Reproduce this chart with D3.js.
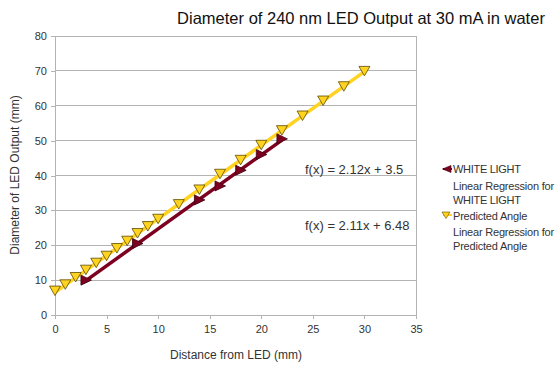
<!DOCTYPE html>
<html><head><meta charset="utf-8">
<script src="https://cdn.jsdelivr.net/npm/d3@7"></script>
<style>body{margin:0;background:#fff}svg{display:block;font-family:"Liberation Sans",Arial,sans-serif}</style>
</head><body><svg id="c" width="558" height="370"></svg>
<script>
const title = "Diameter of 240 nm LED Output at 30 mA in water";
const xLabel = "Distance from LED (mm)";
const yLabel = "Diameter of LED Output (mm)";
const xTicks = [0,5,10,15,20,25,30,35];
const yTicks = [0,10,20,30,40,50,60,70,80];
const whiteX = [3,8,14,16,18,20,22];
const whiteY = [10,20.5,33,37,41.5,46,50.5];
const predX = [0,1,2,3,4,5,6,7,8,9,10,12,14,16,18,20,22,24,26,28,30];
const predY = [7,8.8,10.9,13,15,17,19.2,21.3,23.5,25.5,27.6,31.8,36,40.5,44.5,48.8,53,57.2,61.5,65.6,70];
const regWhite = [2.12, 3.5];
const regPred = [2.11, 6.48];
const eqLabels = ["f(x) = 2.12x + 3.5", "f(x) = 2.11x + 6.48"];
const legendLabels = ["WHITE LIGHT", "Linear Regression for", "WHITE LIGHT", "Predicted Angle", "Linear Regression for", "Predicted Angle"];

const svg = d3.select("#c");
const x = d3.scaleLinear().domain([0,35]).range([55,416]);
const y = d3.scaleLinear().domain([0,80]).range([315,36]);
const grid = "#b3b3b3";
const dark = "#7e0021", yellow = "#ffd320";

// gridlines
svg.append("g").selectAll("line").data(yTicks.slice(1)).join("line")
  .attr("x1",x(0)).attr("x2",x(35)).attr("y1",d=>y(d)).attr("y2",d=>y(d))
  .attr("stroke",grid).attr("stroke-width",1).attr("shape-rendering","crispEdges");
svg.append("line").attr("x1",x(35)).attr("x2",x(35)).attr("y1",y(0)).attr("y2",y(80))
  .attr("stroke",grid).attr("shape-rendering","crispEdges");

// axes
const ax = svg.append("g").attr("transform",`translate(0,${y(0)})`)
  .call(d3.axisBottom(x).tickValues(xTicks).tickSize(4).tickPadding(6));
const ay = svg.append("g").attr("transform",`translate(${x(0)},0)`)
  .call(d3.axisLeft(y).tickValues(yTicks).tickSize(4).tickPadding(4));
[ax,ay].forEach(g=>{
  g.selectAll("path,line").attr("stroke",grid).attr("shape-rendering","crispEdges");
  g.selectAll("text").attr("fill","#333").attr("font-size","11px").attr("font-family","Liberation Sans, Arial, sans-serif");
});

// regression lines
function regLine(xs, r, color){
  const x0 = d3.min(xs), x1 = d3.max(xs);
  svg.append("line").attr("x1",x(x0)).attr("y1",y(r[0]*x0+r[1]))
    .attr("x2",x(x1)).attr("y2",y(r[0]*x1+r[1]))
    .attr("stroke",color).attr("stroke-width",3.5).attr("stroke-linecap","butt");
}
regLine(predX, regPred, yellow);
regLine(whiteX, regWhite, dark);

// markers
const downTri = "M-5.5,-4.5L5.5,-4.5L0,5Z";
const rightTri = "M-5,-5L5.5,0L-5,5Z";
svg.append("g").selectAll("path").data(predX.map((d,i)=>[d,predY[i]])).join("path")
  .attr("d",downTri).attr("transform",d=>`translate(${x(d[0])},${y(d[1])})`)
  .attr("fill",yellow).attr("stroke","#5c4a00").attr("stroke-width",0.8);
svg.append("g").selectAll("path").data(whiteX.map((d,i)=>[d,whiteY[i]])).join("path")
  .attr("d",rightTri).attr("transform",d=>`translate(${x(d[0])},${y(d[1])})`)
  .attr("fill",dark).attr("stroke","#3a0010").attr("stroke-width",0.8);

// equations
svg.append("text").attr("x",305).attr("y",174).text(eqLabels[0]).attr("font-size","13px").attr("fill","#333");
svg.append("text").attr("x",305).attr("y",230).text(eqLabels[1]).attr("font-size","13px").attr("fill","#333");

// title & labels
svg.append("text").attr("x",361).attr("y",24).attr("text-anchor","middle").attr("font-size","16.5px").attr("fill","#111").text(title);
svg.append("text").attr("x",236).attr("y",359).attr("text-anchor","middle").attr("font-size","12px").attr("fill","#333").text(xLabel);
svg.append("text").attr("transform","translate(19,175) rotate(-90)").attr("text-anchor","middle").attr("font-size","12px").attr("fill","#333").text(yLabel);

// legend
const legY = [173,190,204,220,236,250];
svg.append("g").selectAll("text").data(legendLabels).join("text")
  .attr("x",453).attr("y",(d,i)=>legY[i]).attr("font-size","11px").attr("fill","#333")
  .attr("letter-spacing",(d,i)=>(i===0||i===2)?"-0.3px":"-0.2px").text(d=>d);
svg.append("line").attr("x1",443).attr("x2",452).attr("y1",169).attr("y2",169).attr("stroke",dark).attr("stroke-width",2);
svg.append("path").attr("d","M5,-3.5L-3.5,0L5,3.5Z").attr("transform","translate(446,169)").attr("fill",dark).attr("stroke","#3a0010").attr("stroke-width",0.6);
svg.append("line").attr("x1",443).attr("x2",452).attr("y1",215).attr("y2",215).attr("stroke",yellow).attr("stroke-width",2);
svg.append("path").attr("d","M-4,-3L4,-3L0,3.5Z").attr("transform","translate(446,215)").attr("fill",yellow).attr("stroke","#5c4a00").attr("stroke-width",0.6);
</script></body></html>
